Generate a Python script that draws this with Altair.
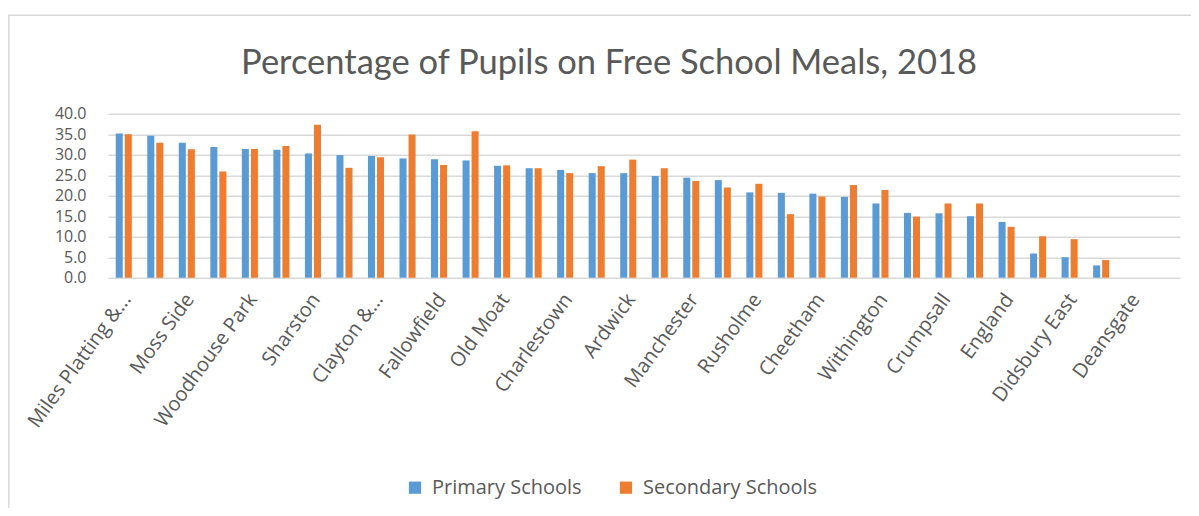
import altair as alt
import pandas as pd

areas = [
    "Miles Platting & Newton Heath", "Harpurhey", "Moss Side", "Gorton & Abbey Hey",
    "Woodhouse Park", "Higher Blackley", "Sharston", "Longsight",
    "Clayton & Openshaw", "Moston", "Fallowfield", "Ancoats & Beswick",
    "Old Moat", "Hulme", "Charlestown", "Levenshulme",
    "Ardwick", "Baguley", "Manchester", "Brooklands",
    "Rusholme", "Northenden", "Cheetham", "Burnage",
    "Withington", "Whalley Range", "Crumpsall", "Chorlton Park",
    "England", "Chorlton", "Didsbury East", "Didsbury West",
    "Deansgate", "Piccadilly",
]
primary = [35.2, 34.6, 32.9, 31.9, 31.4, 31.2, 30.3, 29.9, 29.7, 29.1, 28.9, 28.6,
           27.3, 26.7, 26.3, 25.5, 25.5, 24.8, 24.4, 23.8, 20.8, 20.7, 20.5, 19.7,
           18.1, 15.8, 15.7, 15.0, 13.6, 5.9, 5.0, 3.0, None, None]
secondary = [35.0, 32.9, 31.3, 25.9, 31.4, 32.1, 37.3, 26.8, 29.4, 34.9, 27.5, 35.7,
             27.4, 26.7, 25.5, 27.2, 28.8, 26.7, 23.6, 22.0, 22.9, 15.5, 19.8, 22.6,
             21.4, 14.9, 18.1, 18.1, 12.4, 10.1, 9.4, 4.3, None, None]
series = ["Primary Schools", "Secondary Schools"]
colors = ["#5B9BD5", "#ED7D31"]
y_ticks = [0, 5, 10, 15, 20, 25, 30, 35, 40]
shown_labels = areas[::2]
title_text = ["Percentage of Pupils on Free School Meals, 2018"]

rows = []
for a, p, s in zip(areas, primary, secondary):
    rows.append({"area": a, "school": series[0], "value": p})
    rows.append({"area": a, "school": series[1], "value": s})
df = pd.DataFrame(rows)

W, H = 1072, 164
TXT = "#595959"
GRID = "#D9D9D9"

label_expr = ("datum.value == 'Miles Platting & Newton Heath' ? 'Miles Platting &...' : "
              "datum.value == 'Clayton & Openshaw' ? 'Clayton &...' : datum.value")

bars = alt.Chart(df).mark_bar().encode(
    x=alt.X("area:N", sort=areas,
            scale=alt.Scale(domain=areas, paddingInner=0.49, paddingOuter=0.245),
            axis=alt.Axis(title=None, values=shown_labels, labelAngle=-54,
                          labelAlign="right", labelBaseline="top",
                          labelFont="Open Sans", labelFontSize=20, labelColor=TXT,
                          labelPadding=12, labelOffset=-5, labelExpr=label_expr,
                          labelLimit=300, ticks=False, domain=False, grid=False)),
    xOffset=alt.XOffset("school:N", sort=series, scale=alt.Scale(paddingInner=0.22)),
    y=alt.Y("value:Q", scale=alt.Scale(domain=[0, 40], nice=False),
            axis=alt.Axis(title=None, values=y_ticks, format=".1f",
                          labelFont="Open Sans", labelFontSize=16, labelColor=TXT,
                          labelPadding=22, ticks=False, domain=False,
                          grid=True, gridColor=GRID, gridWidth=1.5)),
    color=alt.Color("school:N", sort=series,
                    scale=alt.Scale(domain=series, range=colors),
                    legend=alt.Legend(title=None, orient="none", direction="horizontal",
                                      legendX=297, legendY=364,
                                      symbolType="square", symbolSize=150,
                                      symbolStrokeWidth=0, labelFont="Open Sans",
                                      labelFontSize=20, labelColor=TXT, labelLimit=400,
                                      labelOffset=7, columnPadding=34)),
)

frame_df = alt.Data(values=[{"k": 1}])
top_line = alt.Chart(frame_df).mark_rule(color=GRID, strokeWidth=1.5).encode(
    x=alt.value(-100), x2=alt.value(W + 11), y=alt.value(-98.5))
left_line = alt.Chart(frame_df).mark_rule(color=GRID, strokeWidth=1.5).encode(
    x=alt.value(-99.2), y=alt.value(-98.5), y2=alt.value(H + 240))

title = alt.Chart(pd.DataFrame({"t": title_text})).mark_text(
    font="Lato", fontSize=34.5, color=TXT, align="center", baseline="middle"
).encode(text="t:N", x=alt.value(501), y=alt.value(-50))

chart = alt.layer(top_line, left_line, title, bars).properties(
    width=W, height=H,
    autosize=alt.AutoSizeParams(type="none"),
    padding={"left": 100, "top": 105.7, "right": 11, "bottom": 230},
).configure_view(stroke=None)

chart.save("out.html", embed_options={"renderer": "svg", "actions": False})
